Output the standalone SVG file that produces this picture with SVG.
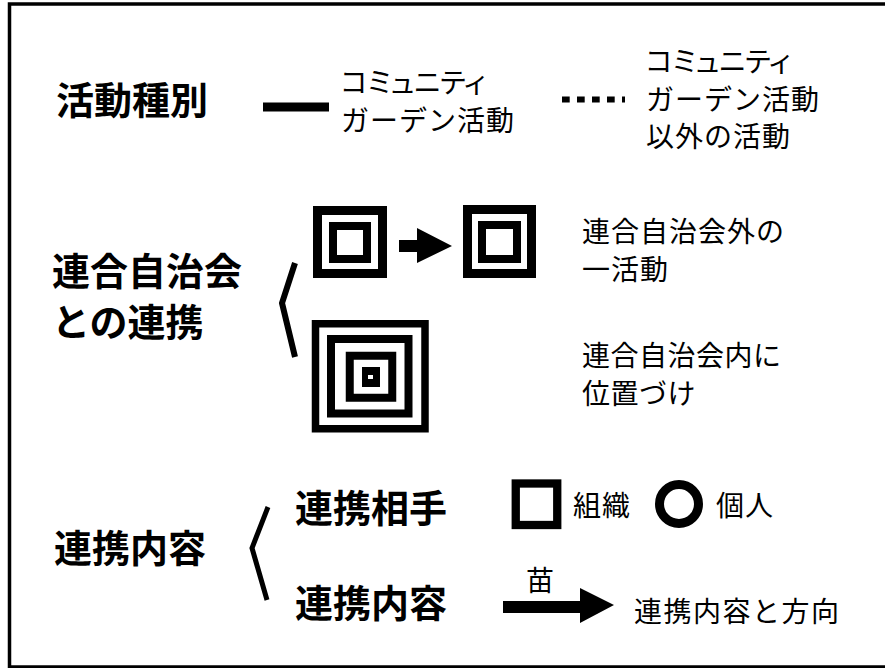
<svg xmlns="http://www.w3.org/2000/svg" width="885" height="668" viewBox="0 0 885 668">
<style>
text{font-family:"Noto Sans CJK JP","Noto Sans CJK SC",sans-serif;fill:#000}
.b{font-size:38px;font-weight:700}
.r{font-size:28px;font-weight:400}
.p{font-feature-settings:"palt"}
.blk{fill:#000}
.ring{fill:none;stroke:#000}
</style>
<rect width="885" height="668" fill="#fff"/>
<rect x="9.5" y="4" width="890" height="663" fill="none" stroke="#000" stroke-width="3.5"/>

<g id="legend-activity">
  <text class="b" x="56" y="114">活動種別</text>
  <line x1="263" y1="107" x2="329" y2="107" stroke="#000" stroke-width="9"/>
  <text class="r"><tspan class="p" x="341" y="93">コミュニティ</tspan><tspan x="341" y="130.5" letter-spacing="1">ガーデン活動</tspan></text>
  <line x1="562" y1="99.5" x2="625" y2="99.5" stroke="#000" stroke-width="6" stroke-dasharray="7.7 7.3"/>
  <text class="r"><tspan class="p" x="646" y="72">コミュニティ</tspan><tspan x="646" y="109.5" letter-spacing="1">ガーデン活動</tspan><tspan x="646" y="147" letter-spacing="1">以外の活動</tspan></text>
</g>

<g id="legend-federation">
  <text class="b"><tspan x="52" y="285">連合自治会</tspan><tspan x="52" y="336">との連携</tspan></text>
  <polyline points="295,263 282,303 295,357" fill="none" stroke="#000" stroke-width="6"/>
  <g id="square-outside-a">
    <rect class="ring" x="317.5" y="210.5" width="65" height="63" stroke-width="9"/>
    <rect class="ring" x="333" y="226" width="34" height="33" stroke-width="8"/>
  </g>
  <path class="blk" d="M399,240 H417 V228 L452,246 L417,263 V252 H399 Z"/>
  <g id="square-outside-b">
    <rect class="ring" x="467.5" y="209.5" width="64" height="64" stroke-width="9"/>
    <rect class="ring" x="482" y="225" width="35" height="34" stroke-width="8"/>
  </g>
  <text class="r" letter-spacing="1"><tspan x="582" y="242">連合自治会外の</tspan><tspan x="582" y="279.5">一活動</tspan></text>
  <g id="square-inside">
    <rect class="ring" x="315.5" y="323.75" width="109.5" height="105" stroke-width="7.5"/>
    <rect class="ring" x="331" y="339" width="77.5" height="74.5" stroke-width="8"/>
    <rect class="ring" x="349.75" y="355.75" width="42.5" height="42" stroke-width="8"/>
    <rect class="blk" x="362" y="367" width="18" height="20"/>
    <rect x="368" y="375" width="5" height="4" fill="#fff"/>
  </g>
  <text class="r" letter-spacing="0.5"><tspan x="582" y="366">連合自治会内に</tspan><tspan x="582" y="403.5">位置づけ</tspan></text>
</g>

<g id="legend-cooperation">
  <text class="b" x="54" y="562">連携内容</text>
  <polyline points="268,507 252,548 267,600" fill="none" stroke="#000" stroke-width="5"/>
  <text class="b" x="295" y="522">連携相手</text>
  <rect class="ring" x="515.75" y="483.5" width="41.5" height="41.5" stroke-width="8.3"/>
  <text class="r" x="573" y="516" letter-spacing="1">組織</text>
  <circle class="ring" cx="679" cy="504" r="19.5" stroke-width="9"/>
  <text class="r" x="716" y="516" letter-spacing="1">個人</text>
  <text class="b" x="295" y="617">連携内容</text>
  <text class="r" x="526" y="591">苗</text>
  <path class="blk" d="M503,601 H580 V588 L614,605 L580,623 V613 H503 Z"/>
  <text class="r" x="634" y="622" letter-spacing="1.5">連携内容と方向</text>
</g>
</svg>
